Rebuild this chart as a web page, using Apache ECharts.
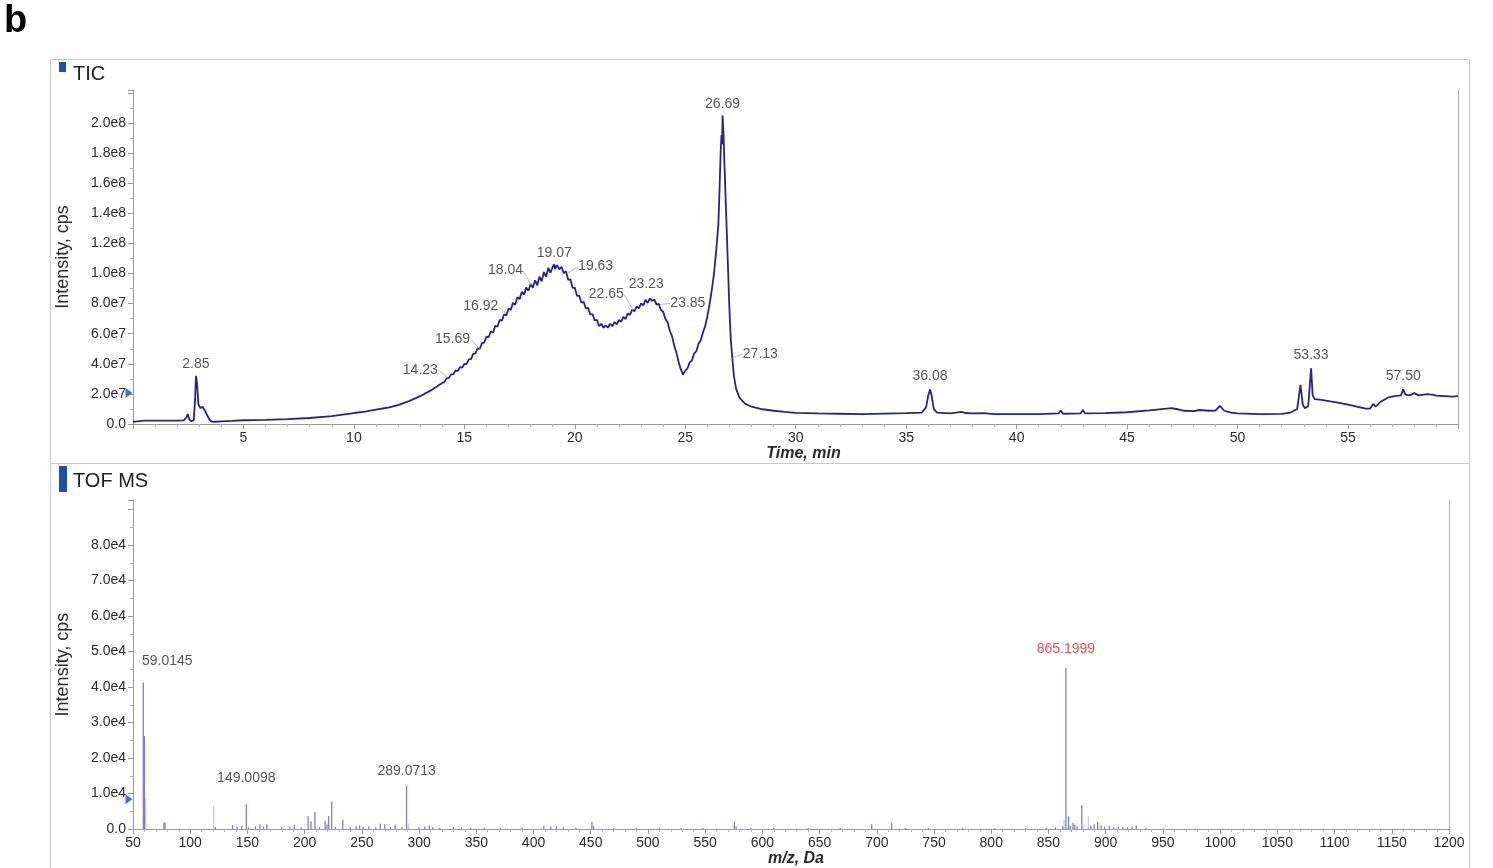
<!DOCTYPE html>
<html>
<head>
<meta charset="utf-8">
<script src="https://cdn.jsdelivr.net/npm/echarts@6/dist/echarts.min.js"></script>
<style>
  html, body { margin: 0; padding: 0; background: #fff; }
  #chart { width: 1493px; height: 868px; }
</style>
</head>
<body>
<div id="chart"></div>
<script>
// ---------- TIC chromatogram (time in min, intensity in units of 1e7 cps) ----------
const ticTime = [
  0.00, 0.04, 0.5, 1.0, 1.5, 2.0, 2.3, 2.42, 2.48, 2.55, 2.65, 2.75, 2.81, 2.85, 2.90, 2.96,
  3.05, 3.15, 3.25, 3.35, 3.45, 3.55, 3.7, 4.0, 4.5, 5.0, 6.0, 7.0, 8.0, 9.0, 10.0, 10.5,
  11.0, 11.5, 12.0, 12.5, 13.0, 13.5,
  14.0, 14.1, 14.2, 14.3, 14.4, 14.5, 14.6, 14.7, 14.8, 14.9,
  15.0, 15.1, 15.2, 15.3, 15.4, 15.5, 15.6, 15.7, 15.8, 15.9,
  16.0, 16.1, 16.2, 16.3, 16.4, 16.5, 16.6, 16.7, 16.8, 16.9,
  17.0, 17.1, 17.2, 17.3, 17.4, 17.5, 17.6, 17.7, 17.8, 17.9,
  18.0, 18.1, 18.2, 18.3, 18.4, 18.5, 18.6, 18.7, 18.8, 18.9,
  19.0, 19.07, 19.1, 19.2, 19.3, 19.4, 19.5, 19.6, 19.7, 19.8, 19.9,
  20.0, 20.1, 20.2, 20.3, 20.4, 20.5, 20.6, 20.7, 20.8, 20.9,
  21.0, 21.1, 21.2, 21.3, 21.4, 21.5, 21.6, 21.7, 21.8, 21.9,
  22.0, 22.1, 22.2, 22.3, 22.4, 22.5, 22.6, 22.7, 22.8, 22.9,
  23.0, 23.1, 23.2, 23.3, 23.4, 23.5, 23.6, 23.7, 23.8, 23.9,
  24.0, 24.1, 24.2, 24.3, 24.4, 24.5, 24.6, 24.7, 24.8, 24.9,
  25.0, 25.1, 25.2, 25.3, 25.4, 25.5, 25.6, 25.7, 25.8, 25.9,
  26.0, 26.1, 26.2, 26.3, 26.4, 26.5, 26.56, 26.6, 26.64, 26.67, 26.69, 26.73, 26.78, 26.85, 26.92,
  27.0, 27.06, 27.13, 27.2, 27.3, 27.45, 27.7, 28.0, 28.5, 29.0, 29.5, 30.0,
  31.0, 32.0, 33.0, 34.0, 35.0, 35.7, 35.9, 36.0, 36.08, 36.15, 36.25, 36.4, 37.0, 37.5, 37.7,
  38.0, 38.5, 39.0, 40.0, 41.0, 41.9, 42.0, 42.1, 42.9, 43.0, 43.1, 44.0, 45.0, 46.0, 46.8,
  47.0, 47.3, 47.6, 48.0, 48.3, 48.7, 49.0, 49.2, 49.4, 49.7, 50.0, 51.0, 52.0, 52.4, 52.7,
  52.85, 52.95, 53.05, 53.2, 53.33, 53.4, 53.5, 53.8, 54.2, 54.6, 55.0, 55.4, 55.8, 56.0,
  56.15, 56.25, 56.5, 56.8, 57.1, 57.4, 57.5, 57.6, 57.8, 58.0, 58.2, 58.6, 58.8, 59.0,
  59.4, 59.7, 59.98
];
const ticIntensityE7 = [
  0.14, 0.23, 0.22, 0.23, 0.22, 0.23, 0.24, 0.45, 0.66, 0.30, 0.18, 0.25, 1.6, 3.2, 2.7, 1.3,
  1.05, 1.15, 0.90, 0.60, 0.32, 0.16, 0.15, 0.18, 0.21, 0.25, 0.28, 0.32, 0.40, 0.52, 0.73, 0.82,
  0.95, 1.08, 1.26, 1.52, 1.85, 2.25,
  2.72, 2.80, 3.05, 3.06, 3.30, 3.31, 3.56, 3.52, 3.78, 3.74,
  3.99, 3.98, 4.30, 4.31, 4.66, 4.70, 5.02, 5.00, 5.38, 5.41,
  5.80, 5.78, 6.15, 6.08, 6.52, 6.48, 6.93, 6.86, 7.30, 7.22,
  7.68, 7.58, 8.05, 7.93, 8.42, 8.30, 8.78, 8.60, 9.08, 8.85,
  9.32, 9.05, 9.55, 9.22, 9.80, 9.48, 10.10, 9.78, 10.38, 10.05,
  10.45, 10.62, 10.30, 10.55, 10.28, 10.45, 10.02, 10.16, 9.58, 9.62, 9.05,
  9.06, 8.52, 8.53, 8.06, 8.12, 7.68, 7.72, 7.28, 7.31, 6.88,
  6.92, 6.50, 6.66, 6.40, 6.56, 6.40, 6.66, 6.50, 6.78, 6.62,
  6.92, 6.80, 7.12, 6.98, 7.35, 7.25, 7.62, 7.48, 7.82, 7.68,
  8.02, 7.88, 8.25, 8.05, 8.35, 8.18, 8.28, 7.93, 7.98, 7.58,
  7.46, 7.00, 6.76, 6.20, 5.84, 5.22, 4.73, 4.12, 3.63, 3.28,
  3.55, 3.70, 4.08, 4.22, 4.68, 4.84, 5.34, 5.56, 6.08, 6.50,
  7.15, 7.96, 8.90, 10.0, 11.5, 13.3, 16.0, 18.0, 19.2, 18.6, 20.5, 19.3, 17.0, 14.0, 11.0,
  7.6, 5.6, 4.4, 3.2, 2.35, 1.75, 1.35, 1.15, 0.98, 0.88, 0.80, 0.74,
  0.70, 0.68, 0.66, 0.69, 0.72, 0.75, 1.1, 1.9, 2.3, 1.9, 1.0, 0.75, 0.70, 0.80, 0.73,
  0.70, 0.72, 0.66, 0.65, 0.66, 0.70, 0.90, 0.68, 0.71, 0.93, 0.70, 0.72, 0.78, 0.90, 1.02,
  1.05, 0.98, 0.88, 0.86, 0.93, 0.88, 0.89, 1.2, 0.88, 0.75, 0.70, 0.66, 0.67, 0.76, 1.0,
  2.6, 1.3, 1.05, 1.2, 3.7, 1.9, 1.65, 1.6, 1.5, 1.4, 1.28, 1.15, 1.02, 1.03,
  1.35, 1.15, 1.5, 1.75, 1.85, 1.9, 2.3, 1.95, 1.9, 2.05, 1.9, 1.98, 1.95, 1.88,
  1.85, 1.82, 1.85
];

// Annotated retention times drawn right above the apex
const ticApexTimes = [2.85, 19.07, 23.23, 26.69, 36.08, 53.33, 57.50];
const ticApexIntensityE7 = [3.2, 10.62, 8.25, 20.5, 2.3, 3.7, 2.3];
// Annotated retention times drawn beside the trace with a leader line
const ticSideTimes = [14.23, 15.69, 16.92, 18.04, 19.63, 22.65, 23.85, 27.13];
const ticSideIntensityE7 = [3.08, 5.02, 7.3, 9.2, 10.0, 7.55, 7.95, 4.4];

// ---------- TOF MS spectrum (m/z in Da, intensity in cps) ----------
const specMz = [
  59.0145, 60.0, 77.0, 78.0, 122, 137, 141, 145, 149.0098, 151, 157, 161, 164, 167, 180, 187,
  191, 197, 203.0, 205.5, 209.0, 213, 217.8, 219.5, 221.0, 223.6, 227, 233.3, 240, 245, 248, 251,
  256, 262, 266, 270, 275, 279, 285, 289.0713, 300, 305, 309, 312, 318, 330, 337, 345,
  357, 371, 390, 409, 415, 420, 426, 437, 451, 452.5, 470, 490, 510, 529, 548, 575.5,
  577, 590, 610, 640, 668, 695.5, 712.9, 725, 745, 775, 803, 830, 848, 856, 862.5, 865.1999,
  867.5, 869, 871.5, 873, 875, 879.1, 887, 890, 893, 896, 899, 903, 907, 911, 915, 919,
  923, 926.7, 935, 950, 980
];
const specIntensity = [
  41300, 26200, 1800, 1900, 600, 1100, 700, 900, 7000, 500, 800, 1300, 700, 1400, 500, 700,
  1200, 500, 3700, 2200, 4900, 600, 2300, 1400, 3700, 7700, 600, 2600, 500, 900, 1000, 600,
  700, 500, 1500, 1400, 600, 1300, 500, 12200, 500, 700, 900, 600, 400, 600, 500, 400,
  400, 300, 300, 900, 700, 800, 500, 400, 2100, 800, 300, 300, 400, 300, 300, 2100,
  900, 400, 300, 300, 300, 1400, 1700, 300, 300, 400, 300, 300, 400, 500, 800, 45400,
  3600, 900, 1800, 1200, 800, 6700, 1000, 1400, 2100, 1100, 700, 900, 500, 700, 600, 500,
  700, 1000, 300, 200, 200
];
const specFaintMz = [61.0, 120.5, 291.0, 863.6, 881.0, 884.8];
const specFaintIntensity = [8500, 6600, 1600, 2600, 1400, 3600];

const specLabelMz = [59.0145, 149.0098, 289.0713, 865.1999];
const specLabelIntensity = [41300, 7000, 12200, 45400];
const precursorMz = 865.1999;

// ---------- presentation ----------
const FONT = '"Liberation Sans", Arial, Helvetica, sans-serif';
const TEXT = '#2b2b2b';
const AXIS = '#9a9a9a';
const LINE = '#24248f';
const MARK = '#1f4fae';

const sci = v => (v === 0 ? '0.0' : v.toExponential(1).replace('e+', 'e'));
const E7 = 1e7;

const ticData = ticTime.map((t, i) => [t, ticIntensityE7[i] * E7]);
const apexData = ticApexTimes.map((t, i) => [t, ticApexIntensityE7[i] * E7]);
const sideData = ticSideTimes.map((t, i) => [t, ticSideIntensityE7[i] * E7]);
const specData = specMz.map((m, i) => [m, specIntensity[i]]);
const specFaintData = specFaintMz.map((m, i) => [m, specFaintIntensity[i]]);
const specLabelData = specLabelMz.map((m, i) => ({
  value: [m, specLabelIntensity[i]],
  label: { color: m === precursorMz ? '#e3262b' : TEXT }
}));

// highest labelled tick on each intensity axis
const ticLabelTop = 2.0e8;
const specLabelTop = 8.0e4;

// label placement (label centre relative to the annotated point, px)
const apexShift = [-12, -11.5, -16, -11.5, -13, -13, -13];
const sideShift = [[-27, -8], [-27, -9], [-26, -8], [-26, -15], [29, -7], [-27, -16], [28, -1], [28, -4]];
const specShift = [[24, -21], [0, -26], [0, -15], [0, -19]];

const axisCommon = {
  axisLine: { show: true, lineStyle: { color: AXIS, width: 1 } },
  axisTick: { show: true, length: 5, lineStyle: { color: AXIS } },
  minorTick: { show: true, length: 3, lineStyle: { color: '#b4b4b4' } },
  splitLine: { show: false },
  minorSplitLine: { show: false },
  axisLabel: { color: TEXT, fontSize: 14, fontFamily: FONT }
};

const labelBase = { show: true, position: 'inside', color: TEXT, fontSize: 14, fontFamily: FONT };
const hiddenSymbol = { color: 'rgba(0,0,0,0)' };

const option = {
  animation: false,
  backgroundColor: '#fff',
  textStyle: { fontFamily: FONT },
  grid: [
    { left: 133, right: 35, top: 90, bottom: 444 },
    { left: 133, right: 44, top: 500, bottom: 38 }
  ],
  xAxis: [
    Object.assign({}, axisCommon, {
      gridIndex: 0, type: 'value', min: 0, max: 59.98, interval: 5,
      minorTick: Object.assign({}, axisCommon.minorTick, { splitNumber: 5 }),
      axisLabel: Object.assign({}, axisCommon.axisLabel, {
        showMinLabel: false, showMaxLabel: false, margin: 7,
        formatter: v => (v > 0 && v % 5 === 0 ? String(v) : '')
      }),
      name: 'Time, min', nameLocation: 'middle', nameGap: 21,
      nameTextStyle: { fontFamily: FONT, fontSize: 16, fontWeight: 'bold', fontStyle: 'italic', color: TEXT, padding: [0, 0, 0, 16] }
    }),
    Object.assign({}, axisCommon, {
      gridIndex: 1, type: 'value', min: 50, max: 1200, interval: 50,
      minorTick: Object.assign({}, axisCommon.minorTick, { splitNumber: 5 }),
      axisLabel: Object.assign({}, axisCommon.axisLabel, { margin: 7, formatter: v => String(v) }),
      name: 'm/z, Da', nameLocation: 'middle', nameGap: 20,
      nameTextStyle: { fontFamily: FONT, fontSize: 16, fontWeight: 'bold', fontStyle: 'italic', color: TEXT, padding: [0, 0, 0, 10] }
    })
  ],
  yAxis: [
    Object.assign({}, axisCommon, {
      gridIndex: 0, type: 'value', min: 0, max: 2.22e8, interval: 2e7,
      minorTick: Object.assign({}, axisCommon.minorTick, { splitNumber: 2 }),
      axisLabel: Object.assign({}, axisCommon.axisLabel, {
        formatter: v => (v > ticLabelTop ? '' : sci(v)), showMaxLabel: false, margin: 7
      }),
      name: 'Intensity, cps', nameLocation: 'middle', nameGap: 61, nameRotate: 90,
      nameTextStyle: { fontFamily: FONT, fontSize: 18, color: TEXT }
    }),
    {
      gridIndex: 0, type: 'value', position: 'right', min: 0, max: 2.22e8,
      axisLine: { show: true, lineStyle: { color: '#b0b0b0' } },
      axisTick: { show: false }, axisLabel: { show: false }, splitLine: { show: false }
    },
    Object.assign({}, axisCommon, {
      gridIndex: 1, type: 'value', min: 0, max: 92700, interval: 10000,
      minorTick: Object.assign({}, axisCommon.minorTick, { splitNumber: 2 }),
      axisLabel: Object.assign({}, axisCommon.axisLabel, {
        formatter: v => (v > specLabelTop ? '' : sci(v)), showMaxLabel: false, margin: 7
      }),
      name: 'Intensity, cps', nameLocation: 'middle', nameGap: 61, nameRotate: 90,
      nameTextStyle: { fontFamily: FONT, fontSize: 18, color: TEXT }
    }),
    {
      gridIndex: 1, type: 'value', position: 'right', min: 0, max: 92700,
      axisLine: { show: true, lineStyle: { color: '#b0b0b0' } },
      axisTick: { show: false }, axisLabel: { show: false }, splitLine: { show: false }
    }
  ],
  series: [
    {
      name: 'TIC', type: 'line', xAxisIndex: 0, yAxisIndex: 0,
      data: ticData, showSymbol: false, symbol: 'none',
      lineStyle: { color: LINE, width: 1.8 }, z: 3
    },
    {
      name: 'TIC apex labels', type: 'scatter', xAxisIndex: 0, yAxisIndex: 0,
      data: apexData, symbolSize: 1, itemStyle: hiddenSymbol, silent: true,
      label: Object.assign({}, labelBase, { formatter: p => p.value[0].toFixed(2) }),
      labelLayout: p => ({ dx: 0, dy: apexShift[p.dataIndex], hideOverlap: false }),
      z: 4
    },
    {
      name: 'TIC side labels', type: 'scatter', xAxisIndex: 0, yAxisIndex: 0,
      data: sideData, symbolSize: 1, itemStyle: hiddenSymbol, silent: true,
      label: Object.assign({}, labelBase, { formatter: p => p.value[0].toFixed(2) }),
      labelLine: { show: true, lineStyle: { color: '#b8b8b8', width: 1 } },
      labelLayout: p => ({ dx: sideShift[p.dataIndex][0], dy: sideShift[p.dataIndex][1], hideOverlap: false }),
      z: 4
    },
    {
      name: 'TIC marker', type: 'scatter', xAxisIndex: 0, yAxisIndex: 0,
      data: [[0, 2.06e7]], symbol: 'triangle', symbolRotate: -90, symbolSize: [10, 7],
      symbolOffset: [-4, 0], itemStyle: { color: MARK }, clip: false, silent: true, z: 5
    },
    {
      name: 'TOF MS', type: 'bar', xAxisIndex: 1, yAxisIndex: 2,
      data: specData, barWidth: 1.3, barGap: '-100%',
      itemStyle: { color: '#7e7ecb' }, silent: true, z: 3
    },
    {
      name: 'TOF MS minor', type: 'bar', xAxisIndex: 1, yAxisIndex: 2,
      data: specFaintData, barWidth: 1.3, barGap: '-100%',
      itemStyle: { color: '#c8c8ec' }, silent: true, z: 2
    },
    {
      name: 'TOF MS labels', type: 'scatter', xAxisIndex: 1, yAxisIndex: 2,
      data: specLabelData, symbolSize: 1, itemStyle: hiddenSymbol, silent: true,
      label: Object.assign({}, labelBase, { formatter: p => p.value[0].toFixed(4) }),
      labelLayout: p => ({ dx: specShift[p.dataIndex][0], dy: specShift[p.dataIndex][1], hideOverlap: false }),
      z: 4
    },
    {
      name: 'TOF MS marker', type: 'scatter', xAxisIndex: 1, yAxisIndex: 2,
      data: [[50, 8400]], symbol: 'triangle', symbolRotate: -90, symbolSize: [10, 7],
      symbolOffset: [-4, 0], itemStyle: { color: MARK }, clip: false, silent: true, z: 5
    }
  ],
  graphic: [
    { type: 'text', left: 4, top: 3, style: { text: 'b', font: 'bold 38px ' + FONT, fill: '#000' } },
    { type: 'rect', shape: { x: 50.5, y: 59.5, width: 1419, height: 404 }, style: { fill: 'none', stroke: '#c9c9c9', lineWidth: 1 }, silent: true },
    { type: 'rect', shape: { x: 50.5, y: 463.5, width: 1419, height: 420 }, style: { fill: 'none', stroke: '#c9c9c9', lineWidth: 1 }, silent: true },
    { type: 'rect', shape: { x: 59, y: 62, width: 7, height: 10 }, style: { fill: MARK }, silent: true },
    { type: 'text', left: 73, top: 64, style: { text: 'TIC', font: '20px ' + FONT, fill: '#222' }, silent: true },
    { type: 'rect', shape: { x: 59, y: 466, width: 8, height: 26 }, style: { fill: MARK }, silent: true },
    { type: 'text', left: 73, top: 471, style: { text: 'TOF MS', font: '20px ' + FONT, fill: '#222' }, silent: true }
  ]
};

const chart = echarts.init(document.getElementById('chart'), null, { renderer: 'canvas' });
chart.setOption(option);
</script>
</body>
</html>
